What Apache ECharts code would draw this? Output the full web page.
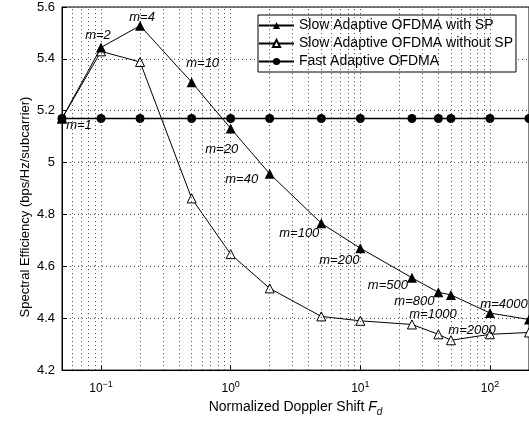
<!DOCTYPE html>
<html><head><meta charset="utf-8">
<script src="https://cdn.jsdelivr.net/npm/echarts@6/dist/echarts.min.js"></script>
<style>html,body{margin:0;padding:0;background:#fff}#c{width:529px;height:422px}</style>
</head><body><div id="c"></div>
<script>
// ---- data ----
const fd = [0.05, 0.1, 0.2, 0.5, 1, 2, 5, 10, 25, 40, 50, 100, 200];
const mLabels = ['m=1','m=2','m=4','m=10','m=20','m=40','m=100','m=200','m=500','m=800','m=1000','m=2000','m=4000'];
const withSP = [5.17, 5.444, 5.528, 5.31, 5.132, 4.957, 4.766, 4.67, 4.556, 4.50, 4.49, 4.42, 4.395];
const withoutSP = [5.17, 5.429, 5.388, 4.862, 4.647, 4.515, 4.407, 4.39, 4.376, 4.338, 4.315, 4.338, 4.345];
const fast = [5.17, 5.17, 5.17, 5.17, 5.17, 5.17, 5.17, 5.17, 5.17, 5.17, 5.17, 5.17, 5.17];
const seriesNames = ['Slow Adaptive OFDMA with SP', 'Slow Adaptive OFDMA without SP', 'Fast Adaptive OFDMA'];
const yTitle = 'Spectral Efficiency (bps/Hz/subcarrier)';

// ---- layout (label offsets relative to the point) ----
const labelOffsets = [[17,7],[-3,-12],[2,-8],[11,-19],[-9,21],[-28,6],[-22,10],[-21,12],[-24,8],[-24,9],[-18,20],[-18,17],[-25,-15]];

const FONT = 'Liberation Sans, Arial, Helvetica, sans-serif';
const xMin = 0.05, xMax = 200;
const gridXs = [];
for (let e = -2; e <= 2; e++) for (let k = 1; k <= 9; k++) {
  const v = +(k * Math.pow(10, e)).toPrecision(6);
  if (v > xMin * 1.0001 && v < xMax * 0.9999) gridXs.push(v);
}
const dotted = {type: [1, 3], color: '#444', width: 1};

const chart = echarts.init(document.getElementById('c'), null, {renderer: 'canvas'});
chart.setOption({
  animation: false,
  backgroundColor: '#fff',
  textStyle: {fontFamily: FONT},
  grid: {left: 62, top: 7, width: 468, height: 366, show: true, borderColor: '#000', borderWidth: 1, containLabel: false},
  graphic: [{
    type: 'text', x: 25, y: 207, rotation: Math.PI / 2, silent: true,
    style: {text: yTitle, font: '13px ' + FONT, fill: '#000', align: 'center', verticalAlign: 'middle'}
  }],
  legend: {
    data: seriesNames, orient: 'vertical', left: 258, top: 15,
    backgroundColor: '#fff', borderColor: '#000', borderWidth: 1,
    padding: [3, 3, 3, 0], itemGap: 3, itemWidth: 35, itemHeight: 9,
    textStyle: {fontSize: 14, lineHeight: 15, color: '#000', fontFamily: FONT},
    inactiveColor: '#000'
  },
  xAxis: [{
    type: 'log', logBase: 10, min: xMin, max: xMax,
    name: '{n|Normalized Doppler Shift }{i|F}{d|d}', nameLocation: 'middle', nameGap: 25,
    nameTextStyle: {rich: {
      n: {fontSize: 14, color: '#000', fontFamily: FONT},
      i: {fontSize: 14, color: '#000', fontStyle: 'italic', fontFamily: FONT},
      d: {fontSize: 10, color: '#000', fontStyle: 'italic', fontFamily: FONT, padding: [10, 0, 0, 0]}
    }},
    axisLine: {show: true, onZero: false, lineStyle: {color: '#000', width: 1}},
    axisTick: {show: true, inside: true, length: 5, lineStyle: {color: '#000'}},
    splitLine: {show: false},
    axisLabel: {
      margin: 10, color: '#000',
      showMinLabel: false, showMaxLabel: false,
      formatter: function (v) {
        const l = Math.log10(v), e = Math.round(l);
        if (Math.abs(l - e) > 1e-6) return '';
        return '{b|10}{s|' + (e < 0 ? '\u2212' : '') + Math.abs(e) + '}';
      },
      rich: {
        b: {fontSize: 12, color: '#000', fontFamily: FONT},
        s: {fontSize: 9, color: '#000', fontFamily: FONT, padding: [0, 0, 9, 0]}
      }
    }
  }],
  yAxis: [{
    type: 'value', min: 4.2, max: 5.6, interval: 0.2,
    axisLine: {show: true, onZero: false, lineStyle: {color: '#000', width: 1}},
    axisTick: {show: true, inside: true, length: 5, lineStyle: {color: '#000'}},
    splitLine: {show: true, lineStyle: dotted},
    axisLabel: {margin: 7, color: '#000', fontSize: 13, fontFamily: FONT,
      formatter: v => String(+(+v).toFixed(1))}
  }],
  series: [
    {
      name: '_grid', type: 'line', data: [], silent: true,
      markLine: {silent: true, symbol: ['none', 'none'], label: {show: false},
        lineStyle: dotted, animation: false,
        data: gridXs.map(v => ({xAxis: v}))}
    },
    {
      name: seriesNames[2], type: 'line', data: fd.map((x, i) => [x, fast[i]]),
      symbol: 'circle', symbolSize: 9, z: 3,
      lineStyle: {color: '#000', width: 1.3}, itemStyle: {color: '#000'}
    },
    {
      name: seriesNames[1], type: 'line', data: fd.map((x, i) => [x, withoutSP[i]]),
      symbol: 'triangle', symbolSize: 9, z: 4,
      lineStyle: {color: '#000', width: 1}, itemStyle: {color: '#fff', borderColor: '#000', borderWidth: 1}
    },
    {
      name: seriesNames[0], type: 'line', z: 5,
      data: fd.map((x, i) => ({
        value: [x, withSP[i]],
        label: {show: true, position: 'inside', formatter: mLabels[i], offset: labelOffsets[i]}
      })),
      symbol: 'triangle', symbolSize: 10,
      lineStyle: {color: '#000', width: 1}, itemStyle: {color: '#000'},
      label: {fontSize: 13, fontStyle: 'italic', color: '#000', fontFamily: FONT}
    }
  ]
});
</script></body></html>
